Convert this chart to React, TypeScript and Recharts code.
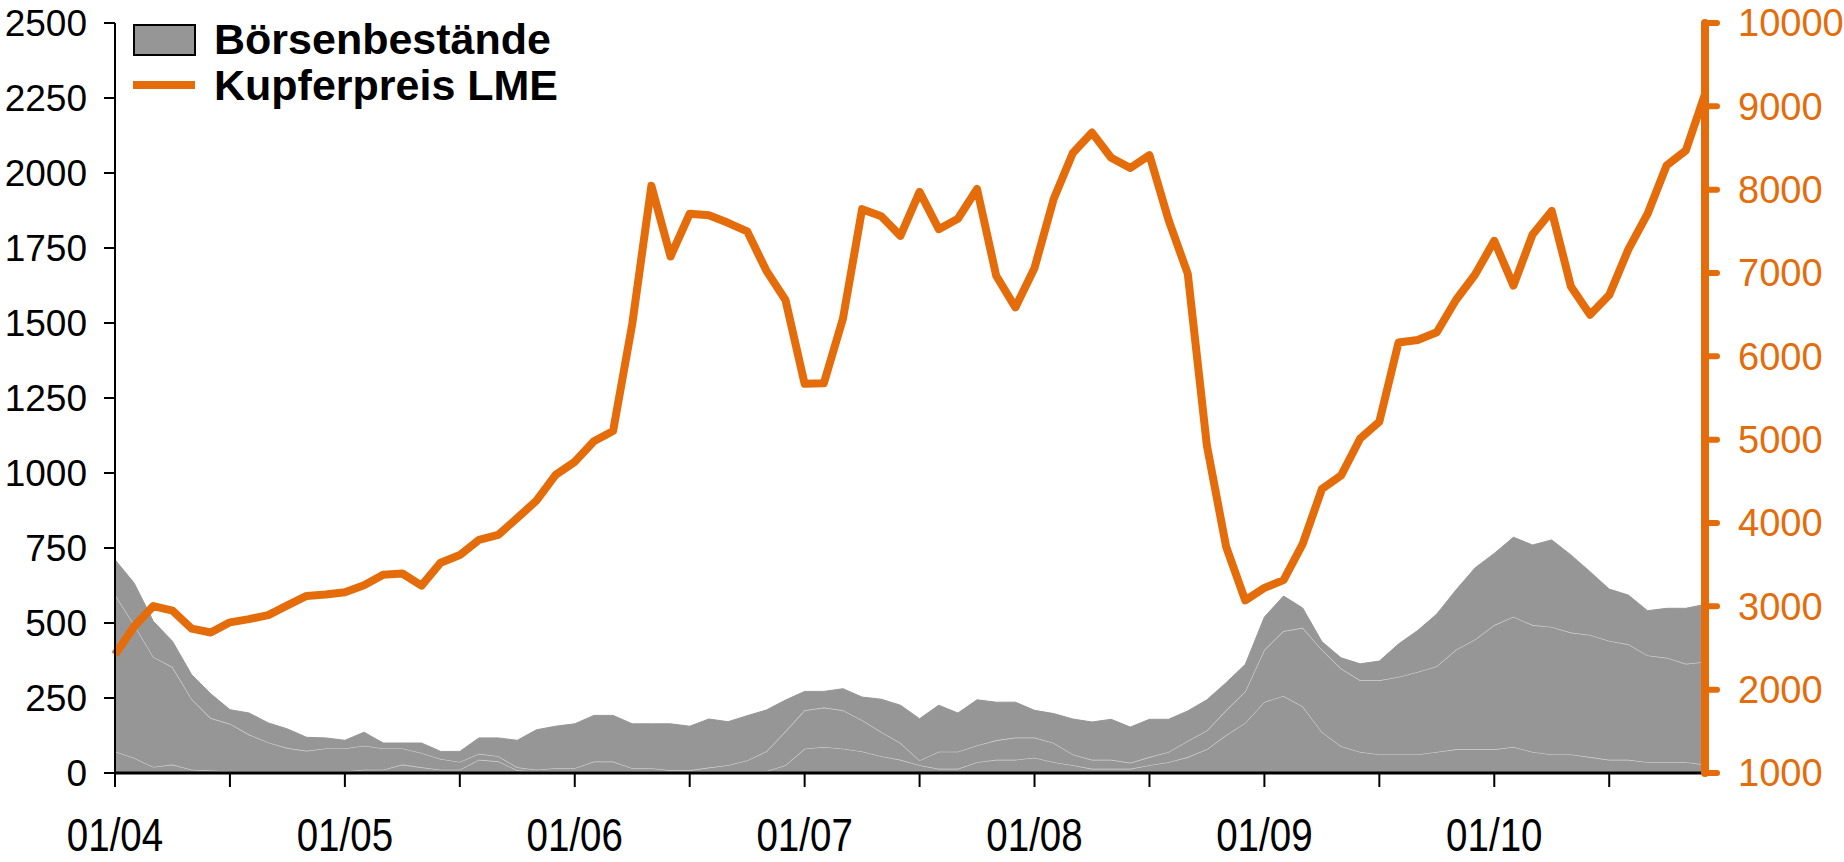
// Kupfer: Börsenbestände (gestapelt) und LME-Kupferpreis, 01/04 – 12/10
import React from 'react';
import { Area, ComposedChart, Line, XAxis, YAxis } from 'recharts';

const FONT = '"Liberation Sans", Arial, sans-serif';
const ORANGE = '#E46C0A';
const GREY = '#969696';

// monthly categories 01/04 .. 12/10
const years = ['04', '05', '06', '07', '08', '09', '10'];
const months = years.flatMap((y) =>
  ['01', '02', '03', '04', '05', '06', '07', '08', '09', '10', '11', '12'].map((m) => `${m}/${y}`)
);

// stock layers (1000 t), bottom to top
const lowerStocks = [
  72, 50, 20, 28, 11, 8, 5, 5, 5, 5, 5, 5, 5, 11, 11, 28, 19, 11, 11, 44, 39, 9, 5, 5, 5, 5, 5, 5,
  5, 5, 5, 6, 6, 6, 6, 26, 81, 87, 81, 72, 56, 44, 26, 14, 14, 36, 44, 44, 51, 36, 26, 14, 14, 14,
  26, 36, 53, 79, 126, 167, 237, 257, 222, 137, 89, 70, 62, 62, 62, 70, 79, 79, 79, 87, 70, 62, 62,
  53, 44, 44, 36, 36, 36, 28,
];
const middleStocks = [
  522, 444, 367, 325, 236, 175, 159, 123, 97, 78, 69, 77, 77, 80, 71, 54, 48, 36, 26, 20, 17, 10, 6,
  11, 11, 33, 33, 11, 11, 4, 4, 12, 20, 36, 66, 113, 128, 131, 128, 104, 81, 56, 16, 57, 57, 56, 65,
  74, 67, 64, 36, 30, 30, 20, 27, 34, 54, 63, 83, 105, 174, 216, 262, 274, 259, 239, 247, 258, 275,
  286, 332, 366, 414, 434, 423, 425, 406, 407, 396, 385, 356, 348, 328, 342,
];
const upperStocks = [
  117, 139, 119, 86, 81, 81, 47, 72, 65, 64, 45, 35, 27, 45, 18, 18, 33, 25, 35, 53, 61, 90, 133,
  140, 148, 154, 154, 148, 148, 155, 147, 162, 145, 149, 138, 104, 63, 54, 72, 77, 109, 126, 139,
  155, 129, 152, 127, 118, 91, 98, 118, 126, 135, 119, 126, 109, 100, 102, 92, 90, 109, 117, 66, 27,
  36, 55, 64, 110, 138, 174, 199, 239, 239, 265, 267, 290, 259, 211, 173, 164, 149, 165, 185, 192,
];

// LME copper price, USD/t
const copperPrice = [
  2423, 2759, 3003, 2949, 2732, 2686, 2808, 2846, 2895, 3012, 3125, 3142, 3170, 3254, 3379, 3394,
  3249, 3524, 3615, 3798, 3857, 4059, 4269, 4577, 4734, 4982, 5103, 6387, 8046, 7198, 7711, 7692,
  7602, 7500, 7029, 6676, 5670, 5676, 6452, 7766, 7681, 7446, 7974, 7526, 7651, 8008, 6967, 6587,
  7061, 7888, 8439, 8685, 8383, 8260, 8414, 7634, 6991, 4926, 3717, 3072, 3221, 3315, 3750, 4407,
  4569, 5014, 5216, 6165, 6196, 6288, 6676, 6982, 7386, 6848, 7463, 7745, 6838, 6499, 6735, 7284,
  7709, 8292, 8470, 9147,
];

const leftTicks = [0, 250, 500, 750, 1000, 1250, 1500, 1750, 2000, 2250, 2500];
const rightTicks = [1000, 2000, 3000, 4000, 5000, 6000, 7000, 8000, 9000, 10000];

const data = months.map((month, i) => ({
  month,
  lower: lowerStocks[i],
  middle: middleStocks[i],
  upper: upperStocks[i],
  price: copperPrice[i],
}));

// only January gets a label, every 6th month gets a tick mark
function MonthTick(props: any) {
  const { x, y, payload } = props;
  if (!String(payload.value).startsWith('01/')) return <g />;
  // condensed, tall digits like the original
  return (
    <text
      transform={`translate(${x},${y + 64}) scale(0.82,1)`}
      textAnchor="middle"
      fontSize={47}
      fill="#000"
      fontFamily={FONT}
    >
      {payload.value}
    </text>
  );
}

function Legend() {
  return (
    <svg
      width={600}
      height={120}
      style={{ position: 'absolute', left: 0, top: 0, pointerEvents: 'none' }}
    >
      <rect x={134} y={25} width={61} height={30} fill={GREY} stroke="#000" strokeWidth={2} />
      <text x={214} y={54} fontSize={43} fontWeight="bold" fontFamily={FONT} fill="#000">
        Börsenbestände
      </text>
      <line x1={133} x2={195} y1={85} y2={85} stroke={ORANGE} strokeWidth={8} />
      <text x={214} y={100} fontSize={43} fontWeight="bold" fontFamily={FONT} fill="#000">
        Kupferpreis LME
      </text>
    </svg>
  );
}

export default function App() {
  return (
    <div
      style={{
        position: 'absolute',
        left: 0,
        top: 0,
        width: 1844,
        height: 862,
        background: '#fff',
        fontFamily: FONT,
      }}
    >
      <ComposedChart
        width={1844}
        height={862}
        data={data}
        margin={{ top: 23, right: 0, bottom: 0, left: 0 }}
      >
        <XAxis
          dataKey="month"
          height={89}
          interval={5}
          tickSize={14}
          tickMargin={0}
          axisLine={{ stroke: '#000', strokeWidth: 3 }}
          tickLine={{ stroke: '#000', strokeWidth: 2 }}
          tick={(p: any) => <MonthTick {...p} />}
        />
        <YAxis
          yAxisId="left"
          width={115}
          domain={[0, 2500]}
          ticks={leftTicks}
          interval={0}
          tickSize={11}
          tickMargin={17}
          axisLine={{ stroke: '#000', strokeWidth: 2 }}
          tickLine={{ stroke: '#000', strokeWidth: 2 }}
          tick={{ fontSize: 37, fill: '#000', fontFamily: FONT }}
        />
        <YAxis
          yAxisId="right"
          orientation="right"
          width={139}
          domain={[1000, 10000]}
          ticks={rightTicks}
          interval={0}
          tickSize={12}
          tickMargin={21}
          axisLine={{ stroke: ORANGE, strokeWidth: 8, strokeLinecap: 'round' }}
          tickLine={{ stroke: ORANGE, strokeWidth: 6, strokeLinecap: 'round' }}
          tick={{ fontSize: 38, fill: ORANGE, fontFamily: FONT }}
        />

        {/* stacked stocks, thin light lines separate the layers */}
        <Area
          yAxisId="left"
          type="linear"
          dataKey="lower"
          stackId="stocks"
          fill={GREY}
          fillOpacity={1}
          stroke="#d4d4d4"
          strokeWidth={1.2}
          isAnimationActive={false}
        />
        <Area
          yAxisId="left"
          type="linear"
          dataKey="middle"
          stackId="stocks"
          fill={GREY}
          fillOpacity={1}
          stroke="#d4d4d4"
          strokeWidth={1.2}
          isAnimationActive={false}
        />
        <Area
          yAxisId="left"
          type="linear"
          dataKey="upper"
          stackId="stocks"
          fill={GREY}
          fillOpacity={1}
          stroke={GREY}
          strokeWidth={1}
          isAnimationActive={false}
        />

        <Line
          yAxisId="right"
          type="linear"
          dataKey="price"
          stroke={ORANGE}
          strokeWidth={8}
          strokeLinejoin="round"
          dot={false}
          activeDot={false}
          isAnimationActive={false}
        />
      </ComposedChart>
      <Legend />
    </div>
  );
}
